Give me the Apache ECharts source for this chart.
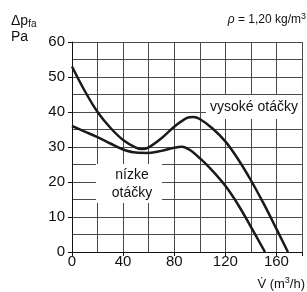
<!DOCTYPE html>
<html>
<head>
<meta charset="utf-8">
<script src="https://cdn.jsdelivr.net/npm/echarts@6/dist/echarts.min.js"></script>
<style>
  html, body { margin: 0; padding: 0; background: #fff; }
  #chart { width: 307px; height: 292px; }
</style>
</head>
<body>
<div id="chart"></div>
<script>
// krivky ventilatora
const flowHigh = [0, 10, 20, 30, 40, 50, 55, 60, 70, 80, 90, 95, 100, 110, 120, 130, 140, 150, 160, 169];
const dpHigh = [53, 46, 40, 35.5, 32, 29.8, 29.4, 29.9, 32.5, 35.8, 38.3, 38.6, 38, 35.3, 31.6, 26.5, 20.5, 13.8, 6.6, 0];
const flowLow = [0, 10, 20, 30, 40, 50, 60, 70, 80, 86, 92, 100, 110, 120, 130, 140, 151];
const dpLow = [36, 34.4, 32.8, 31, 29.3, 28.4, 28.3, 28.9, 29.8, 30.1, 29.2, 26.8, 23.2, 18.9, 13.5, 7.2, 0];
const labelHigh = 'vysoké otáčky';
const labelLow = 'nízke\notáčky';

const font = '"Liberation Sans", Arial, sans-serif';
const gridColor = '#4a4a4a';

function pairs(xs, ys) {
  let arr = [];
  for (let i = 0; i < xs.length; i++) arr.push([xs[i], ys[i]]);
  return arr;
}

let myChart = echarts.init(document.getElementById('chart'));
myChart.setOption({
  animation: false,
  grid: { left: 72, right: 5, top: 42, bottom: 40 },
  xAxis: {
    type: 'value', min: 0, max: 180, interval: 40,
    axisLine: { show: true, lineStyle: { color: '#111', width: 1 } },
    axisTick: { show: true, length: 4, inside: false, lineStyle: { color: '#111' } },
    axisLabel: {
      margin: 2, fontSize: 15, color: '#111', fontFamily: font,
      formatter: v => (v % 40 === 0 && v < 180 ? String(v) : '')
    },
    splitLine: { show: true, lineStyle: { color: gridColor, width: 1 } },
    minorTick: { show: false, splitNumber: 2 },
    minorSplitLine: { show: true, lineStyle: { color: gridColor, width: 1 } }
  },
  yAxis: {
    type: 'value', min: 0, max: 60, interval: 10,
    axisLine: { show: true, lineStyle: { color: '#111', width: 1 } },
    axisTick: { show: true, length: 4, lineStyle: { color: '#111' } },
    axisLabel: { margin: 7, fontSize: 15, color: '#111', fontFamily: font },
    splitLine: { show: true, lineStyle: { color: gridColor, width: 1 } },
    minorTick: { show: false, splitNumber: 2 },
    minorSplitLine: { show: true, lineStyle: { color: gridColor, width: 1 } }
  },
  series: [
    {
      type: 'line', data: pairs(flowHigh, dpHigh), smooth: 0.35, showSymbol: false, z: 5,
      lineStyle: { color: '#1a1a1a', width: 2.5 }
    },
    {
      type: 'line', data: pairs(flowLow, dpLow), smooth: 0.35, showSymbol: false, z: 5,
      lineStyle: { color: '#1a1a1a', width: 2.5 }
    }
  ],
  graphic: [
    { type: 'rect', z: 100, shape: { x: 206, y: 95, width: 96, height: 24 }, style: { fill: '#fff' } },
    {
      type: 'text', z: 101, x: 210, y: 107,
      style: { text: labelHigh, font: '14px ' + font, fill: '#111', textVerticalAlign: 'middle' }
    },
    { type: 'rect', z: 100, shape: { x: 96, y: 164, width: 66, height: 39 }, style: { fill: '#fff' } },
    {
      type: 'text', z: 101, x: 132, y: 184,
      style: { text: labelLow, font: '14px ' + font, fill: '#111', textAlign: 'center', textVerticalAlign: 'middle', lineHeight: 18 }
    },
    {
      type: 'text', x: 11, y: 21,
      style: {
        text: 'Δp{sub|fa}', font: '14px ' + font, fill: '#111', textVerticalAlign: 'middle',
        rich: { sub: { fontSize: 10, fontFamily: font, verticalAlign: 'bottom', padding: [6, 0, 0, 0] } }
      }
    },
    {
      type: 'text', x: 11, y: 37,
      style: { text: 'Pa', font: '14px ' + font, fill: '#111', textVerticalAlign: 'middle' }
    },
    {
      type: 'text', x: 306, y: 20,
      style: {
        text: '{i|ρ} = 1,20 kg/m{sup|3}', font: '12px ' + font, fill: '#111',
        textAlign: 'right', textVerticalAlign: 'middle',
        rich: {
          i: { fontStyle: 'italic', fontSize: 12, fontFamily: font },
          sup: { fontSize: 9, fontFamily: font, verticalAlign: 'top', padding: [0, 0, 6, 0] }
        }
      }
    },
    {
      type: 'text', x: 305, y: 284,
      style: {
        text: 'V̇ (m{sup|3}/h)', font: '13px ' + font, fill: '#111',
        textAlign: 'right', textVerticalAlign: 'middle',
        rich: { sup: { fontSize: 9, fontFamily: font, verticalAlign: 'top', padding: [0, 0, 6, 0] } }
      }
    }
  ]
});
window.addEventListener('resize', function () {
  myChart.resize();
});
</script>
</body>
</html>
